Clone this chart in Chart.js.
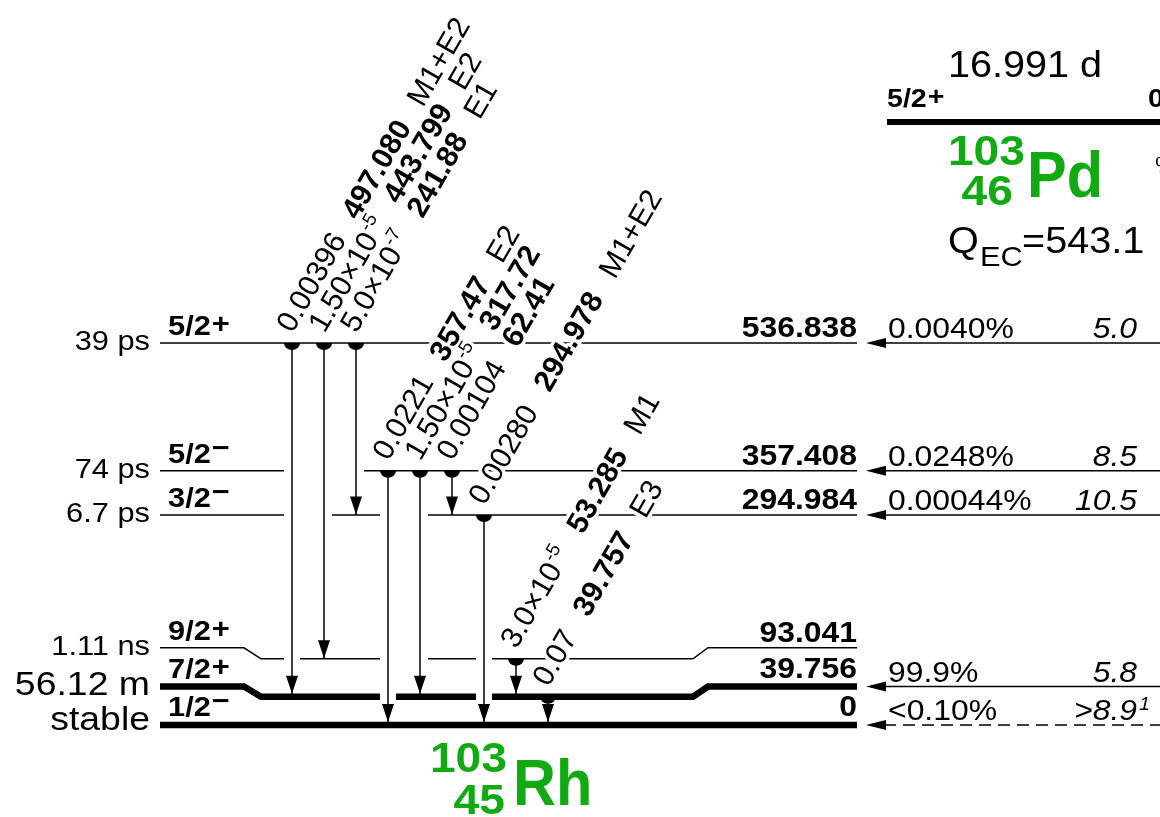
<!DOCTYPE html>
<html lang="en">
<head>
<meta charset="UTF-8">
<title>103Pd EC decay to 103Rh</title>
<script src="https://cdn.jsdelivr.net/npm/chart.js"></script>
<style>
  html, body { margin: 0; padding: 0; background: #fff; }
  #scheme { display: block; }
</style>
</head>
<body>
<canvas id="scheme" width="1160" height="817"></canvas>
<script>
// 103Rh levels fed in the decay (keV)
const levelEnergy = [0, 39.756, 93.041, 294.984, 357.408, 536.838];
const levelLabel = ['0', '39.756', '93.041', '294.984', '357.408', '536.838'];
const levelSpin = ['1/2', '7/2', '9/2', '3/2', '5/2', '5/2'];
const levelParity = ['−', '+', '+', '−', '−', '+'];
const levelHalfLife = ['stable', '56.12 m', '1.11 ns', '6.7 ps', '74 ps', '39 ps'];

// EC feeding from the parent
const ecBranch = ['<0.10%', '99.9%', '', '0.00044%', '0.0248%', '0.0040%'];
const ecLogFt = ['>8.9', '5.8', '', '10.5', '8.5', '5.0'];
const ecLogFtNote = ['1', '', '', '', '', ''];
const ecUncertain = [true, false, false, false, false, false];

// gamma transitions
const gammaFrom = [536.838, 536.838, 536.838, 357.408, 357.408, 357.408, 294.984, 93.041, 39.756];
const gammaTo = [39.756, 93.041, 294.984, 0, 39.756, 294.984, 0, 39.756, 0];
const gammaIntensity = ['0.00396', '1.50×10^-5', '5.0×10^-7', '0.0221', '1.50×10^-5', '0.00104', '0.00280', '3.0×10^-5', '0.07'];
const gammaEnergy = ['497.080', '443.799', '241.88', '357.47', '317.72', '62.41', '294.978', '53.285', '39.757'];
const gammaMult = ['M1+E2', 'E2', 'E1', 'E2', '', '', 'M1+E2', 'M1', 'E3'];

// parent
const parentSpin = '5/2';
const parentParity = '+';
const parentEnergy = '0';
const parentHalfLife = '16.991 d';
const parentQ = '543.1';

// ---- layout ----
const FONT = '"Liberation Sans", Arial, Helvetica, sans-serif';
const GREEN = '#12aa12';
const SX = 1.1;                 // horizontal stretch of the lettering
const X_LEFT = 160, X_RIGHT = 857;
const KINK = [244, 261, 693, 708];
const kinkShift = [0, 14.3, 15.5, 0, 0, 0];   // keV, side stubs lifted to make room for labels
const thickLevel = [true, true, false, false, false, false];
const GX0 = 292, GDX = 32;
const PARENT_Y = 847.4;         // display height of the parent level
const FEED_TIP = 866, FEED_END = 1160;
const Y_MAX = 1018.86, Y_MIN = -129.29;

const gx = g => GX0 + g * GDX;
const idxOf = e => levelEnergy.indexOf(e);

const datasets = [];
function addLine(points, width, dash) {
  datasets.push({
    data: points, showLine: true, borderColor: '#000', borderWidth: width,
    borderDash: dash || [], pointRadius: 0, fill: false, tension: 0,
    borderCapStyle: 'butt', borderJoinStyle: 'miter'
  });
}

// levels, broken where gamma arrows pass through
levelEnergy.forEach((e, i) => {
  const side = e + kinkShift[i];
  const w = thickLevel[i] ? 6.5 : 1.5;
  const gaps = [];
  gammaFrom.forEach((f, g) => {
    if (f > e && gammaTo[g] < e) gaps.push([gx(g) - 8, gx(g) + 8]);
  });
  gaps.sort((a, b) => a[0] - b[0]);
  const merged = [];
  gaps.forEach(gp => {
    const last = merged[merged.length - 1];
    if (last && gp[0] - last[1] < 20) last[1] = gp[1];
    else merged.push(gp.slice());
  });
  let pts = [{x: X_LEFT, y: side}, {x: KINK[0], y: side}, {x: KINK[1], y: e}];
  merged.forEach(gp => {
    pts.push({x: gp[0], y: e});
    addLine(pts, w);
    pts = [{x: gp[1], y: e}];
  });
  pts.push({x: KINK[2], y: e}, {x: KINK[3], y: side}, {x: X_RIGHT, y: side});
  addLine(pts, w);
});

// gamma arrows
gammaFrom.forEach((f, g) => {
  addLine([{x: gx(g), y: f}, {x: gx(g), y: gammaTo[g]}], 1.5);
});

// feeding lines
levelEnergy.forEach((e, i) => {
  if (!ecBranch[i]) return;
  const side = e + kinkShift[i];
  addLine([{x: FEED_TIP + 18, y: side}, {x: FEED_END, y: side}], 1.5, ecUncertain[i] ? [12, 7] : []);
});

// parent level
addLine([{x: 887, y: PARENT_Y}, {x: 1160, y: PARENT_Y}], 6);

const decor = {
  id: 'decor',
  afterDatasetsDraw(chart) {
    const ctx = chart.ctx;
    const px = v => chart.scales.x.getPixelForValue(v);
    const py = v => chart.scales.y.getPixelForValue(v);

    function txt(s, X, Y, font, align, sx) {
      ctx.save();
      ctx.font = font;
      ctx.textAlign = align || 'left';
      ctx.textBaseline = 'alphabetic';
      ctx.translate(X, Y);
      ctx.scale(sx == null ? SX : sx, 1);
      ctx.fillText(s, 0, 0);
      ctx.restore();
    }
    function width(s, font, sx) {
      ctx.font = font;
      return ctx.measureText(s).width * (sx == null ? SX : sx);
    }
    function spin(s, parity, X, Y, size) {
      const f = 'bold ' + size + 'px ' + FONT;
      txt(s, X, Y, f);
      const w = width(s, f);
      txt(parity, X + w + 1, Y - (parity === '+' ? 2 : 6), f);
    }

    ctx.fillStyle = '#000';

    // gamma dots and arrow heads
    gammaFrom.forEach((f, g) => {
      const X = px(gx(g));
      const Y0 = py(f);
      const t = idxOf(gammaTo[g]);
      const Y1 = py(gammaTo[g]) - (thickLevel[t] ? 3 : 0.5);
      ctx.beginPath();
      ctx.ellipse(X, Y0, 8, 7, 0, 0, Math.PI);
      ctx.fill();
      ctx.beginPath();
      ctx.moveTo(X, Y1);
      ctx.lineTo(X - 6, Y1 - 18);
      ctx.lineTo(X + 6, Y1 - 18);
      ctx.closePath();
      ctx.fill();
    });

    // level labels, feeding arrow heads and their labels
    levelEnergy.forEach((e, i) => {
      const Y = py(e + kinkShift[i]);
      const thick = thickLevel[i];
      spin(levelSpin[i], levelParity[i], 168, Y - (thick ? 9 : 8), 28);
      txt(levelLabel[i], X_RIGHT, Y - (thick ? 9 : 6), 'bold 29px ' + FONT, 'right');
      const big = levelHalfLife[i] === 'stable' || levelHalfLife[i].endsWith(' m');
      const hlOff = levelHalfLife[i] === 'stable' ? 5 : (big ? 8 : 7);
      txt(levelHalfLife[i], 150, Y + hlOff, (big ? 34 : 28) + 'px ' + FONT, 'right');
      if (!ecBranch[i]) return;
      const T = px(FEED_TIP);
      ctx.beginPath();
      ctx.moveTo(T, Y);
      ctx.lineTo(T + 20, Y - 5);
      ctx.lineTo(T + 20, Y + 5);
      ctx.closePath();
      ctx.fill();
      txt(ecBranch[i], 888, Y - 5, '29px ' + FONT);
      txt(ecLogFt[i], 1137, Y - 5, 'italic 29px ' + FONT, 'right');
      if (ecLogFtNote[i]) txt(ecLogFtNote[i], 1139, Y - 15, 'italic 18px ' + FONT);
    });

    // rotated gamma labels: white halos first, then the lettering
    const TH = Math.PI / 3;
    function rotLabel(g, halo) {
      ctx.save();
      ctx.translate(px(gx(g)), py(gammaFrom[g]));
      ctx.rotate(-TH);
      ctx.textAlign = 'left';
      ctx.textBaseline = 'alphabetic';
      ctx.lineJoin = 'round';
      ctx.lineWidth = 7;
      ctx.strokeStyle = '#fff';
      ctx.fillStyle = '#000';
      const runs = [];
      const parts = gammaIntensity[g].split('^');
      runs.push({s: parts[0], f: '30px ' + FONT, dy: 0, gap: parts[1] ? 1 : 22});
      if (parts[1]) runs.push({s: parts[1], f: '19px ' + FONT, dy: -12, gap: 22});
      runs.push({s: gammaEnergy[g], f: 'bold 30px ' + FONT, dy: 0, gap: 22});
      if (gammaMult[g]) runs.push({s: gammaMult[g], f: '30px ' + FONT, dy: 0, gap: 0});
      let u = 8;
      const v = -4;
      runs.forEach(r => {
        ctx.font = r.f;
        if (halo) ctx.strokeText(r.s, u, v + r.dy);
        else ctx.fillText(r.s, u, v + r.dy);
        u += ctx.measureText(r.s).width + r.gap;
      });
      ctx.restore();
    }
    gammaFrom.forEach((f, g) => rotLabel(g, true));
    gammaFrom.forEach((f, g) => rotLabel(g, false));

    // parent
    ctx.fillStyle = '#000';
    const Yp = py(PARENT_Y);
    spin(parentSpin, parentParity, 887, Yp - 15, 26);
    txt(parentEnergy, 1148, Yp - 15, 'bold 26px ' + FONT);
    txt(parentHalfLife, 948, 77, '36px ' + FONT);
    txt('Q', 948, 253, '36px ' + FONT);
    txt('EC', 980, 266, '28px ' + FONT);
    txt('=' + parentQ, 1022, 253, '36px ' + FONT);
    txt('%ε+%β+=100', 1155, 172, '22px ' + FONT);

    // nuclide names
    ctx.fillStyle = GREEN;
    txt('103', 1025, 165, 'bold 42px ' + FONT, 'right');
    txt('46', 1013, 205, 'bold 42px ' + FONT, 'right');
    txt('Pd', 1027, 197, 'bold 64px ' + FONT, 'left', 0.93);
    txt('103', 507, 772, 'bold 42px ' + FONT, 'right');
    txt('45', 505, 814, 'bold 42px ' + FONT, 'right');
    txt('Rh', 513, 805, 'bold 64px ' + FONT, 'left', 0.93);
  }
};

new Chart(document.getElementById('scheme'), {
  type: 'scatter',
  data: { datasets: datasets },
  options: {
    responsive: false,
    animation: false,
    layout: { padding: 0 },
    plugins: { legend: { display: false }, tooltip: { enabled: false } },
    scales: {
      x: { type: 'linear', min: 0, max: 1160, display: false },
      y: { type: 'linear', min: Y_MIN, max: Y_MAX, display: false }
    }
  },
  plugins: [decor]
});
</script>
</body>
</html>
